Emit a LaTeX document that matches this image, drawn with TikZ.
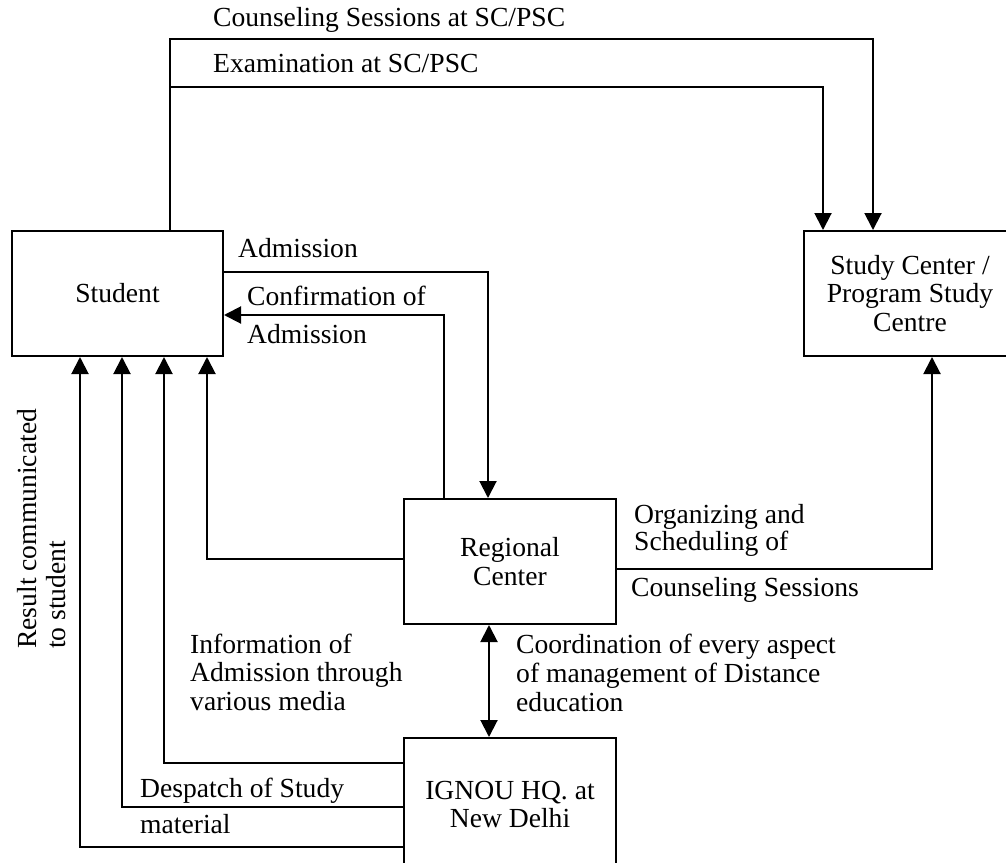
\documentclass[tikz,border=0pt]{standalone}
\usepackage{fontspec}
\setmainfont{Liberation Serif}
\usetikzlibrary{arrows.meta}
\begin{document}
\begin{tikzpicture}[x=1pt,y=-1pt,
  font=\fontsize{27.6}{28.5}\selectfont,
  box/.style={draw, line width=2pt, minimum width=212pt, minimum height=125pt, inner sep=0pt, align=center},
  lab/.style={anchor=base west, align=left, inner sep=0pt},
  conn/.style={line width=2pt},
  arr/.style={conn, -{Triangle[length=17pt,width=17pt]}},
  darr/.style={conn, {Triangle[length=17pt,width=17pt]}-{Triangle[length=17pt,width=17pt]}}]
\clip (0,0) rectangle (1006,862);
\fill[white] (0,0) rectangle (1006,862);

% boxes
\node[box, minimum width=211pt] (student) at (117.5,293.5) {Student};
\node[box] (sc) at (910,293.5) {Study Center /\\Program Study\\Centre};
\node[box] (rc) at (510,561.5) {Regional\\Center};
\node[box, minimum height=133pt] (hq) at (510,804.5) {IGNOU HQ. at\\New Delhi};

% helper coordinates
\coordinate (t1) at (170,39);
\coordinate (t2) at (170,87);
\coordinate (s1) at (873,0);
\coordinate (s2) at (823,0);
\coordinate (ad) at (488,272);
\coordinate (cf) at (444,315);
\coordinate (l4) at (207,559);
\coordinate (r1) at (932,569);
\coordinate (dd) at (489,0);
\coordinate (h1) at (164,763);
\coordinate (h2) at (122,807);
\coordinate (h3) at (80,847);

% connectors
\draw[arr] (student.north -| t1) -- (t1) -| (sc.north -| s1);
\draw[arr] (t2) -| (sc.north -| s2);
\draw[arr] (student.east |- ad) -| (rc.north -| ad);
\draw[arr] (rc.north -| cf) |- (student.east |- cf);
\draw[arr] (rc.west |- l4) -| (student.south -| l4);
\draw[arr] (rc.east |- r1) -| (sc.south -| r1);
\draw[darr] (rc.south -| dd) -- (hq.north -| dd);
\draw[arr] (hq.west |- h1) -| (student.south -| h1);
\draw[arr] (hq.west |- h2) -| (student.south -| h2);
\draw[arr] (hq.west |- h3) -| (student.south -| h3);

% labels (base anchor = baseline of the last line)
\node[lab] (lc) at (213,27) {Counseling Sessions at SC/PSC};
\node[lab] (le) at (213,72) {Examination at SC/PSC};
\node[lab] (la) at (238,257) {Admission};
\node[lab] (lcf1) at (247,305) {Confirmation of};
\node[lab] (lcf2) at (247,343) {Admission};
\node[lab, font=\fontsize{27.6}{27}\selectfont] (lo) at (634,550) {Organizing and\\Scheduling of};
\node[lab] (lcs) at (631,596) {Counseling Sessions};
\node[lab, font=\fontsize{27.6}{29}\selectfont] (lco) at (516,711) {Coordination of every aspect\\of management of Distance\\education};
\node[lab, font=\fontsize{27.6}{28.5}\selectfont] (li) at (190,710) {Information of\\Admission through\\various media};
\node[lab] (ld1) at (140,797) {Despatch of Study};
\node[lab] (ld2) at (140,833) {material};
\node[lab, rotate=90] (lr) at (65,649) {Result communicated\\to student};
\end{tikzpicture}
\end{document}
